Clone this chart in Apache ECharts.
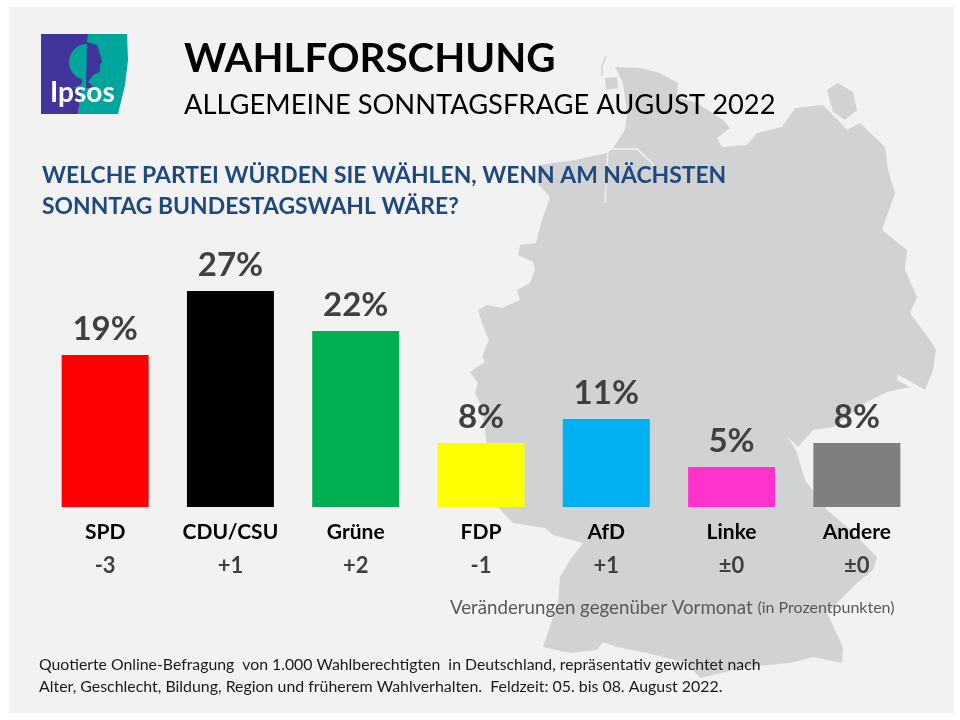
<!DOCTYPE html>
<html>
<head>
<meta charset="utf-8">
<title>Wahlforschung</title>
<style>
    html, body { margin: 0; padding: 0; background: #fff; }
    #chart { width: 960px; height: 720px; }
</style>
<script src="https://cdn.jsdelivr.net/npm/echarts@6/dist/echarts.min.js"></script>
</head>
<body>
<div id="chart"></div>
<script>
// data
var parties = ['SPD', 'CDU/CSU', 'Grüne', 'FDP', 'AfD', 'Linke', 'Andere'];
var shares = [19, 27, 22, 8, 11, 5, 8];
var changes = ['-3', '+1', '+2', '-1', '+1', '±0', '±0'];
var partyColors = ['#ff0000', '#000000', '#00b050', '#ffff00', '#00b0f0', '#ff33cc', '#7f7f7f'];

var titleText = 'WAHLFORSCHUNG';
var subtitleText = 'ALLGEMEINE SONNTAGSFRAGE AUGUST 2022';
var questionLines = ['WELCHE PARTEI WÜRDEN SIE WÄHLEN, WENN AM NÄCHSTEN', 'SONNTAG BUNDESTAGSWAHL WÄRE?'];
var footLines = [
    'Quotierte Online-Befragung  von 1.000 Wahlberechtigten  in Deutschland, repräsentativ gewichtet nach',
    'Alter, Geschlecht, Bildung, Region und früherem Wahlverhalten.  Feldzeit: 05. bis 08. August 2022.'
];

// background silhouette of Germany, traced by eye
var mapOutline = [
    [615, 67], [640, 68], [660, 73], [678, 83], [677, 97], [697, 103], [723, 120], [730, 128], [717, 138], [722, 147],
    [747, 145], [757, 133], [782, 127], [795, 108], [823, 105], [830, 112], [838, 120], [847, 130], [860, 123], [885, 147],
    [888, 170], [895, 193], [882, 230], [907, 250], [905, 270], [917, 297], [910, 313], [932, 343], [936, 350], [933, 370],
    [925, 390], [913, 383], [898, 375], [897, 380], [910, 387], [887, 392], [867, 402], [833, 427], [813, 430], [798, 447],
    [788, 437], [797, 453], [805, 480], [827, 510], [847, 527], [877, 557], [873, 570], [857, 583], [827, 613], [843, 647],
    [842, 663], [813, 657], [790, 663], [747, 667], [700, 678], [687, 663], [647, 653], [617, 647], [603, 642], [597, 650],
    [570, 653], [543, 647], [558, 603], [560, 577], [570, 560], [583, 543], [553, 535], [545, 528], [513, 523], [498, 507],
    [490, 470], [482, 407], [475, 393], [478, 383], [470, 372], [485, 362], [482, 357], [489, 340], [482, 323], [478, 310],
    [487, 305], [502, 308], [520, 300], [517, 290], [530, 283], [535, 270], [533, 262], [518, 255], [520, 245], [536, 243],
    [542, 220], [550, 197], [537, 183], [538, 165], [575, 160], [607, 153], [613, 148], [625, 130], [627, 113],
    [623, 83]
];
var ruegen = [[827, 90], [838, 83], [853, 92], [857, 110], [845, 120], [833, 112]];
var foehr = [[605, 78], [617, 77], [618, 88], [606, 90]];
var elbe = [[608, 149], [637, 149], [652, 163], [657, 170]];
var weser = [[608, 150], [605, 203]];
var sylt = [[606, 56], [602, 66], [602, 76]];

// Ipsos logo pieces
var logoPurple = [[41, 34], [88, 34], [78, 114], [41, 114]];
var logoTeal = [[87, 34], [127, 34], [128, 60], [125, 85], [118, 114], [78, 114]];
var logoFace = [[87, 42], [97, 45], [101, 57], [102, 62], [100, 65], [100, 72], [93, 75], [88, 82], [95, 88], [86, 88]];
var logoTrunk = [[85, 75], [85, 83], [73, 88], [86, 88]];

var uiFont = 'Lato, Carlito, sans-serif';
var mapColor = '#d0d2d4';
var panelColor = '#f2f2f2';

function textEl(x, y, text, font, fill) {
    return { type: 'text', z: 10, style: { x: x, y: y, text: text, font: font, fill: fill, textVerticalAlign: 'middle' } };
}
function polyEl(points, fill, z) {
    return { type: 'polygon', z: z, shape: { points: points }, style: { fill: fill } };
}
function lineEl(points, width) {
    return { type: 'polyline', z: 1, shape: { points: points }, style: { stroke: panelColor, lineWidth: width, fill: null } };
}

var graphics = [
    { type: 'rect', z: 0, shape: { x: 9, y: 7, width: 945, height: 706 }, style: { fill: panelColor } },
    polyEl(mapOutline, mapColor, 1),
    polyEl(ruegen, mapColor, 1),
    polyEl(foehr, mapColor, 1),
    lineEl(elbe, 1.5),
    lineEl(weser, 1.2),
    { type: 'polyline', z: 1, shape: { points: sylt }, style: { stroke: mapColor, lineWidth: 1.5, fill: null } },

    // logo
    polyEl(logoTeal, '#00a59b', 5),
    polyEl(logoPurple, '#41359c', 5),
    { type: 'sector', z: 6, shape: { cx: 87, cy: 62, r: 18, startAngle: Math.PI / 2, endAngle: Math.PI * 3 / 2 }, style: { fill: '#00a59b' } },
    polyEl(logoTrunk, '#00a59b', 6),
    polyEl(logoFace, '#41359c', 6),
    { type: 'text', z: 7, style: { x: 50, y: 93, text: 'Ipsos', font: 'bold 28px ' + uiFont, fill: '#ffffff', textVerticalAlign: 'middle' } },

    textEl(184, 59, titleText, 'bold 40.3px ' + uiFont, '#000000'),
    textEl(184, 105, subtitleText, '27.3px ' + uiFont, '#000000'),
    textEl(42, 176, questionLines[0], 'bold 22.9px ' + uiFont, '#1f497d'),
    textEl(42, 207, questionLines[1], 'bold 22.9px ' + uiFont, '#1f497d'),
    {
        type: 'text', z: 10,
        style: {
            x: 450, y: 608, textVerticalAlign: 'middle', font: '18.7px ' + uiFont, fill: '#595959',
            text: '{a|Veränderungen gegenüber Vormonat} {b|(in Prozentpunkten)}',
            rich: {
                a: { font: '18.7px ' + uiFont, fill: '#595959' },
                b: { font: '16px ' + uiFont, fill: '#595959' }
            }
        }
    },
    textEl(39, 665, footLines[0], '15.8px ' + uiFont, '#1a1a1a'),
    textEl(39, 687, footLines[1], '15.9px ' + uiFont, '#1a1a1a')
];

var myChart = echarts.init(document.getElementById('chart'));
var option = {
    animation: false,
    backgroundColor: '#ffffff',
    graphic: graphics,
    grid: { left: 42.5, top: 291, width: 877, height: 216, containLabel: false },
    xAxis: {
        type: 'category',
        z: 20,
        data: parties,
        axisLine: { show: false },
        axisTick: { show: false },
        axisLabel: {
            margin: 8,
            interval: 0,
            formatter: function (value, index) {
                return '{name|' + value + '}\n{change|' + changes[index] + '}';
            },
            rich: {
                name: { fontFamily: uiFont, fontSize: 21, fontWeight: 'bold', color: '#000000', lineHeight: 34, align: 'center' },
                change: { fontFamily: uiFont, fontSize: 22, fontWeight: 'bold', color: '#404040', lineHeight: 34, align: 'center' }
            }
        }
    },
    yAxis: { type: 'value', min: 0, max: 27, show: false },
    series: [{
        type: 'bar',
        z: 20,
        barWidth: 87,
        data: shares.map(function (v, i) {
            return { value: v, itemStyle: { color: partyColors[i] } };
        }),
        label: {
            show: true,
            position: 'top',
            distance: 9,
            formatter: '{c}%',
            fontFamily: uiFont,
            fontSize: 33,
            fontWeight: 'bold',
            color: '#404040'
        }
    }]
};
myChart.setOption(option);
</script>
</body>
</html>
